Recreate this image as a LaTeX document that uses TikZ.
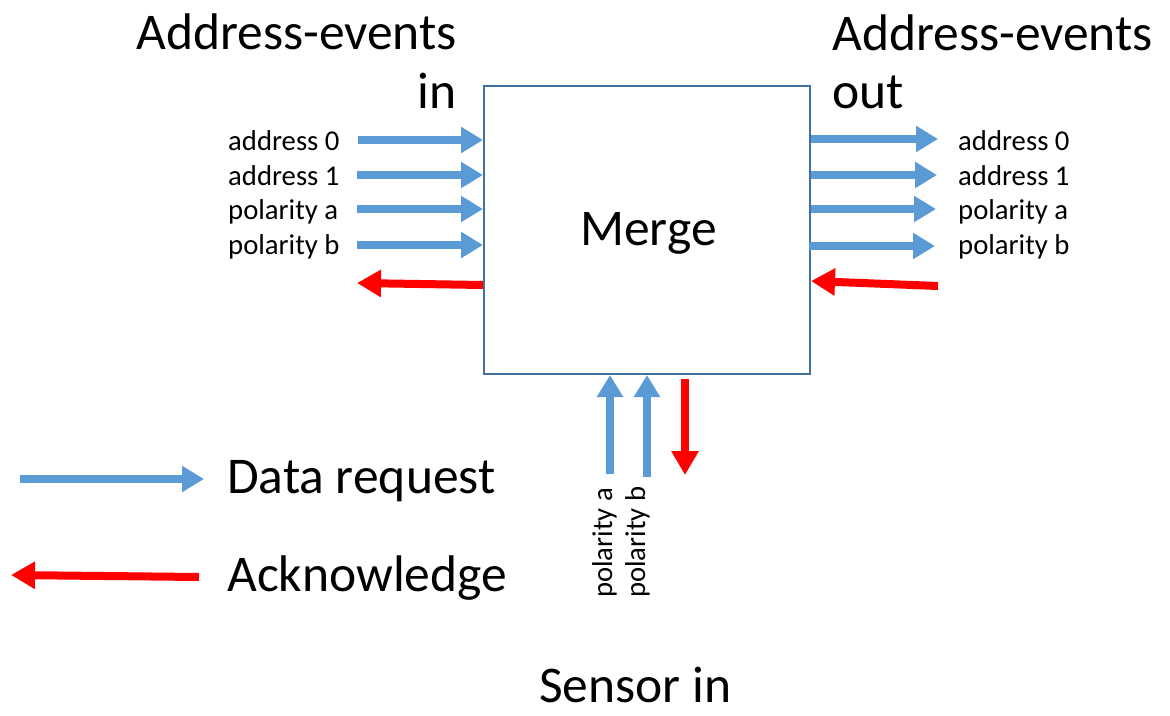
\documentclass[tikz,border=0pt]{standalone}
\usepackage{fontspec}
\setmainfont{Carlito}
\usetikzlibrary{arrows.meta}
\definecolor{reqblue}{HTML}{5B9BD5}
\definecolor{ackred}{HTML}{FF0000}
\definecolor{boxedge}{HTML}{41719C}
\tikzset{
  req/.style={draw=reqblue, line width=7.5pt, -{Triangle[width=25pt,length=22pt]}},
  ack/.style={draw=ackred, line width=8pt, -{Triangle[width=26pt,length=24pt]}},
  big/.style={font=\fontsize{51.5}{60}\selectfont, inner sep=0pt},
  small/.style={font=\fontsize{28.7}{34}\selectfont, inner sep=0pt},
  mergebox/.style={draw=boxedge, line width=2pt, minimum width=326pt, minimum height=288pt, inner sep=0pt}
}
\begin{document}
\begin{tikzpicture}[x=1pt, y=-1pt]
\useasboundingbox (0,0) rectangle (1170,715);

% central block
\node[mergebox] (merge) at (647,230) {};
\node[big, anchor=base west] (mergelbl) at (580,245) {Merge};

% headings
\node[big, anchor=base east] (inhead1) at (457,49) {Address-events};
\node[big, anchor=base east] (inhead2) at (457,108) {in};
\node[big, anchor=base west] (outhead1) at (832,50) {Address-events};
\node[big, anchor=base west] (outhead2) at (832,108) {out};
\node[big, anchor=base west] (sensorhead) at (539,702) {Sensor in};

% input side
\coordinate (i0) at (358,140);
\coordinate (i1) at (357,175);
\coordinate (i2) at (357,209);
\coordinate (i3) at (357,245);
\foreach \c in {i0,i1,i2,i3} \draw[req] (\c) -- (\c -| merge.west);
\coordinate (iack) at (357,283);
\draw[ack] (merge.west |- 0,285) -- (iack);

\node[small, anchor=base west] (il0) at (228,150) {address 0};
\node[small, anchor=base west] (il1) at (228,185) {address 1};
\node[small, anchor=base west] (il2) at (228,219) {polarity a};
\node[small, anchor=base west] (il3) at (228,254) {polarity b};

% output side
\coordinate (o0) at (938,139);
\coordinate (o1) at (937,175);
\coordinate (o2) at (936,209);
\coordinate (o3) at (935,246);
\foreach \c in {o0,o1,o2} \draw[req] (\c -| merge.east) -- (\c);
\draw[req] ([xshift=-2pt]o3 -| merge.east) -- (o3);
\coordinate (oack) at (938,286);
\draw[ack] (oack) -- (merge.east |- 0,281);

\node[small, anchor=base west] (ol0) at (958,150) {address 0};
\node[small, anchor=base west] (ol1) at (958,185) {address 1};
\node[small, anchor=base west] (ol2) at (958,219) {polarity a};
\node[small, anchor=base west] (ol3) at (958,254) {polarity b};

% sensor side
\coordinate (sa) at (610,474);
\coordinate (sb) at (647,477);
\draw[req] (sa) -- (sa |- merge.south);
\draw[req] (sb) -- (sb |- merge.south);
\coordinate (sack) at (685,475);
\draw[ack] ([yshift=-4pt]sack |- merge.south) -- (sack);

\node[small, rotate=90, anchor=base west] (sla) at (612,598) {polarity a};
\node[small, rotate=90, anchor=base west] (slb) at (645,598) {polarity b};

% legend
\coordinate (lr0) at (20,479);
\coordinate (lr1) at (204,479);
\draw[req] (lr0) -- (lr1);
\node[big, anchor=base west] (lreq) at (227,493) {Data request};
\coordinate (la0) at (199,577);
\coordinate (la1) at (11,575);
\draw[ack] (la0) -- (la1);
\node[big, anchor=base west] (lack) at (227,591) {Acknowledge};
\end{tikzpicture}
\end{document}
